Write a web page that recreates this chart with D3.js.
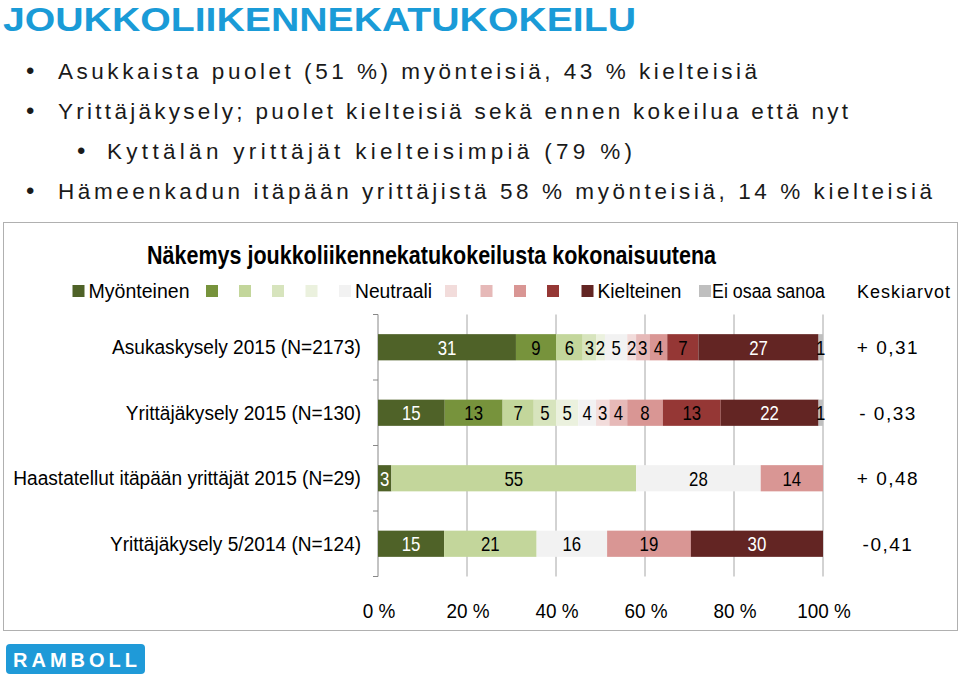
<!DOCTYPE html>
<html>
<head>
<meta charset="utf-8">
<script src="https://cdn.jsdelivr.net/npm/d3@7"></script>
<style>
  html, body { margin: 0; padding: 0; background: #fff; }
  svg { display: block; }
  .narrow { font-family: "Liberation Sans", Arial, sans-serif; }
  .wide { font-family: "Liberation Sans", Arial, sans-serif; }
</style>
</head>
<body>
<svg id="chart" width="960" height="676"></svg>
<script>
// ---------------- data ----------------
const titleText = "JOUKKOLIIKENNEKATUKOKEILU";
const bullets = [
  "Asukkaista puolet (51 %) myönteisiä, 43 % kielteisiä",
  "Yrittäjäkysely; puolet kielteisiä sekä ennen kokeilua että nyt",
  "Kyttälän yrittäjät kielteisimpiä (79 %)",
  "Hämeenkadun itäpään yrittäjistä 58 % myönteisiä, 14 % kielteisiä"
];
const bulletLevels = [0, 0, 1, 0];
const chartTitle = "Näkemys joukkoliikennekatukokeilusta kokonaisuutena";
const categories = [
  "Asukaskysely 2015 (N=2173)",
  "Yrittäjäkysely 2015 (N=130)",
  "Haastatellut itäpään yrittäjät 2015 (N=29)",
  "Yrittäjäkysely 5/2014 (N=124)"
];
const seriesNames = ["Myönteinen", "s2", "s3", "s4", "s5", "Neutraali", "s7", "s8", "s9", "s10", "Kielteinen", "Ei osaa sanoa"];
const legendLabels = ["Myönteinen", "", "", "", "", "Neutraali", "", "", "", "", "Kielteinen", "Ei osaa sanoa"];
const seriesColors = ["#4f6228", "#77933c", "#c3d69b", "#d7e4bd", "#ebf1de", "#f2f2f2", "#f2dcdb", "#e6b9b8", "#d99694", "#953735", "#632523", "#bfbfbf"];
const labelColors = ["#fff", "#000", "#000", "#000", "#000", "#000", "#000", "#000", "#000", "#000", "#fff", "#000"];
const row1 = [31, 9, 6, 3, 2, 5, 2, 3, 4, 7, 27, 1];
const row2 = [15, 13, 7, 5, 5, 4, 3, 4, 8, 13, 22, 1];
const row3 = [3, 0, 55, 0, 0, 28, 0, 0, 14, 0, 0, 0];
const row4 = [15, 0, 21, 0, 0, 16, 0, 0, 19, 0, 30, 0];
const values = [row1, row2, row3, row4];
const meansHeader = "Keskiarvot";
const means = ["+ 0,31", "- 0,33", "+ 0,48", "-0,41"];
const xTicks = [0, 0.2, 0.4, 0.6, 0.8, 1];

// ---------------- helpers ----------------
// squeeze glyphs horizontally to imitate a condensed typeface
function condense(sel, ratio) {
  sel.each(function () {
    const w = this.getComputedTextLength();
    d3.select(this).attr("textLength", w * ratio).attr("lengthAdjust", "spacingAndGlyphs");
  });
  return sel;
}

// ---------------- drawing ----------------
const svg = d3.select("#chart");

// slide title
svg.append("text").attr("x", 3).attr("y", 31)
  .attr("class", "wide")
  .attr("font-size", 34).attr("font-weight", "bold").attr("fill", "#1a9bd7")
  .attr("textLength", 633).attr("lengthAdjust", "spacingAndGlyphs")
  .text(titleText);

// bullets
const bulletWidths = [699, 790, 525, 874];
bullets.forEach((b, i) => {
  const lvl = bulletLevels[i];
  const yy = 79 + i * 40;
  const bx = lvl ? 77 : 26, tx = lvl ? 107 : 58;
  svg.append("text").attr("x", bx).attr("y", yy).attr("class", "wide")
    .attr("font-size", 24).attr("fill", "#1a1a1a").text("•");
  svg.append("text").attr("x", tx).attr("y", yy).attr("class", "wide")
    .attr("font-size", 22.5).attr("fill", "#1a1a1a")
    .attr("textLength", bulletWidths[i]).attr("lengthAdjust", "spacing")
    .text(b);
});

// chart frame
svg.append("rect").attr("x", 3.5).attr("y", 222.5).attr("width", 954).attr("height", 408)
  .attr("fill", "none").attr("stroke", "#b0b0b0").attr("stroke-width", 1);

// chart title
svg.append("text").attr("x", 147).attr("y", 264).attr("class", "narrow")
  .attr("font-size", 25).attr("font-weight", "bold").attr("fill", "#000")
  .attr("textLength", 569).attr("lengthAdjust", "spacingAndGlyphs")
  .text(chartTitle);

// legend (layout positions of swatches)
const legendX = [72.5, 206, 239, 272, 305.5, 339, 445, 480.5, 514, 547, 581.5, 699];
const legendTextW = { "Myönteinen": 101, "Neutraali": 77, "Kielteinen": 84, "Ei osaa sanoa": 113 };
const lg = svg.append("g");
seriesNames.forEach((s, i) => {
  lg.append("rect").attr("x", legendX[i]).attr("y", 285).attr("width", 12).attr("height", 12)
    .attr("fill", seriesColors[i]);
  if (legendLabels[i]) {
    lg.append("text").attr("x", legendX[i] + 16 - (i === 11 ? 3 : 0)).attr("y", 298).attr("class", "narrow")
      .attr("font-size", 20).attr("fill", "#000")
      .attr("textLength", legendTextW[legendLabels[i]]).attr("lengthAdjust", "spacingAndGlyphs")
      .text(legendLabels[i]);
  }
});
svg.append("text").attr("x", 857).attr("y", 298).attr("class", "wide")
  .attr("font-size", 18).attr("fill", "#000").attr("letter-spacing", 1)
  .text(meansHeader);

// scales
const x = d3.scaleLinear().domain([0, 1]).range([378, 823]);
const y = d3.scaleBand().domain(categories).range([314.5, 576.5]).paddingInner(0.6).paddingOuter(0.3);
const step = y.step();
const [yTop, yBot] = y.range();

// gridlines
svg.append("g").selectAll("line").data(xTicks.slice(1)).join("line")
  .attr("x1", d => x(d)).attr("x2", d => x(d))
  .attr("y1", yTop).attr("y2", yBot)
  .attr("stroke", "#a6a6a6").attr("stroke-width", 1);

// category axis line and ticks
svg.append("line").attr("x1", x(0)).attr("x2", x(0)).attr("y1", yTop).attr("y2", yBot)
  .attr("stroke", "#888").attr("stroke-width", 1);
const bounds = d3.range(categories.length + 1).map(i => yTop + i * step);
svg.append("g").selectAll("line").data(bounds).join("line")
  .attr("x1", x(0) - 5).attr("x2", x(0)).attr("y1", d => d).attr("y2", d => d)
  .attr("stroke", "#888");

// bars
const rows = values.map((vals, r) => {
  const total = d3.sum(vals);
  let cum = 0;
  return vals.map((v, i) => {
    const seg = { r, i, v, x0: cum / total, x1: (cum + v) / total };
    cum += v;
    return seg;
  }).filter(d => d.v > 0);
});
const segs = rows.flat();
svg.append("g").selectAll("rect").data(segs).join("rect")
  .attr("x", d => x(d.x0)).attr("width", d => x(d.x1) - x(d.x0))
  .attr("y", d => y(categories[d.r])).attr("height", y.bandwidth())
  .attr("fill", d => seriesColors[d.i]);
condense(svg.append("g").selectAll("text").data(segs).join("text")
  .attr("class", "narrow")
  .attr("x", d => (x(d.x0) + x(d.x1)) / 2)
  .attr("y", d => y(categories[d.r]) + y.bandwidth() / 2 + 7.5)
  .attr("text-anchor", "middle").attr("font-size", 21)
  .attr("fill", d => labelColors[d.i])
  .text(d => d.v), 0.8);

// category labels
condense(svg.append("g").selectAll("text").data(categories).join("text")
  .attr("class", "narrow")
  .attr("x", 361).attr("y", d => y(d) + y.bandwidth() / 2 + 7)
  .attr("text-anchor", "end").attr("font-size", 20).attr("fill", "#000")
  .text(d => d), 0.955);

// means
svg.append("g").selectAll("text").data(means).join("text")
  .attr("class", "wide")
  .attr("x", 888).attr("y", (d, i) => y(categories[i]) + y.bandwidth() / 2 + 7)
  .attr("text-anchor", "middle").attr("font-size", 19).attr("fill", "#000")
  .attr("letter-spacing", 1.5)
  .text(d => d);

// x axis labels
condense(svg.append("g").selectAll("text").data(xTicks).join("text")
  .attr("class", "narrow")
  .attr("x", d => x(d) + 1).attr("y", 618)
  .attr("text-anchor", "middle").attr("font-size", 21).attr("fill", "#000")
  .text(d => d3.format(".0f")(d * 100) + " %"), 0.9);

// logo
const logo = svg.append("g");
logo.append("rect").attr("x", 6).attr("y", 644).attr("width", 139).attr("height", 30).attr("rx", 4)
  .attr("fill", "#1f9ad8");
logo.append("text").attr("x", 77).attr("y", 667).attr("text-anchor", "middle")
  .attr("class", "wide").attr("font-size", 20).attr("font-weight", "bold")
  .attr("letter-spacing", 4).attr("fill", "#fff").text("RAMBOLL");
</script>
</body>
</html>
